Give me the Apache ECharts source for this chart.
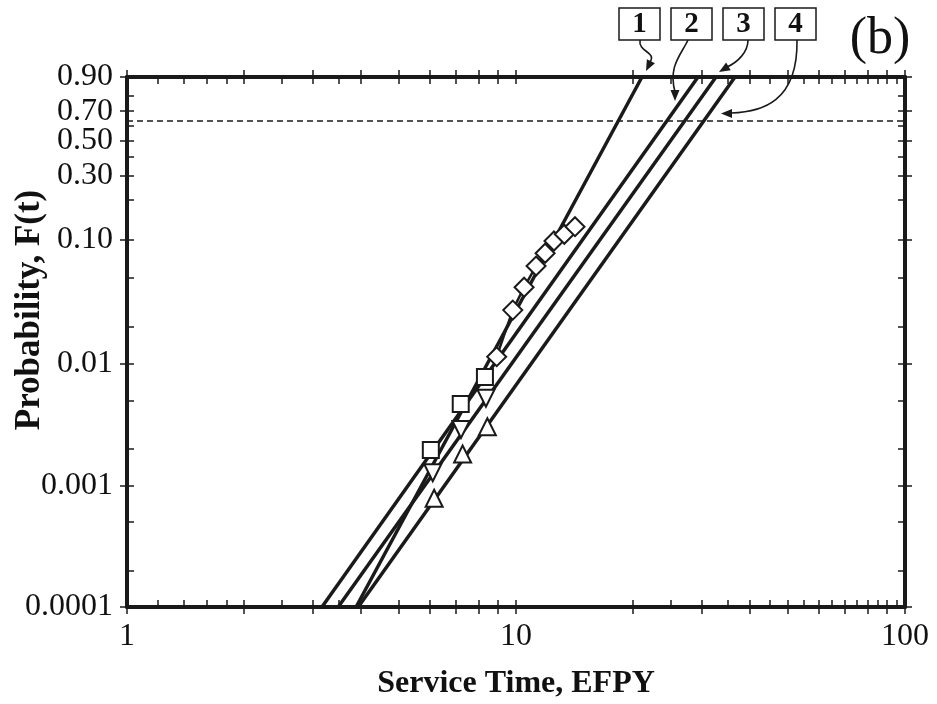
<!DOCTYPE html>
<html><head><meta charset="utf-8">
<script src="https://cdn.jsdelivr.net/npm/echarts@6/dist/echarts.min.js"></script>
<style>html,body{margin:0;padding:0;background:#fff}#c{width:937px;height:704px}</style>
</head><body><div id="c"></div>
<script>
// ---- tick data ----
const xMajorTicks = [1,2,3,4,5,6,7,8,9,10,20,30,40,50,60,70,80,90,100];
const xMinorTicks = [1.2,1.4,1.6,1.8,2.5,3.5,25,35,45,55,65,75,85,95];
const xLabels = [1,10,100];
const yLabels = [0.0001,0.001,0.01,0.10,0.30,0.50,0.70,0.90];
const yLabelText = ['0.0001','0.001','0.01','0.10','0.30','0.50','0.70','0.90'];
const yMinorTicks = [0.0002,0.0005,0.002,0.005,0.02,0.05,0.2,0.4,0.6,0.8];
const yMin = 0.0001, yMax = 0.90;
const charLifeF = 0.632;

// ---- fitted Weibull lines (endpoints: time, probability) ----
const fit1T = [3.88, 21.08], fit1F = [0.0001, 0.90];
const fit2T = [3.17, 29.37], fit2F = [0.0001, 0.90];
const fit3T = [3.49, 32.67], fit3F = [0.0001, 0.90];
const fit4T = [3.93, 36.56], fit4F = [0.0001, 0.90];

// ---- data points ----
const diamondT = [8.92, 9.81, 10.49, 11.26, 11.88, 12.52, 13.31, 14.18];
const diamondF = [0.01142, 0.0274, 0.0419, 0.0620, 0.0783, 0.0978, 0.1103, 0.1262];
const squareT = [6.04, 7.21, 8.32];
const squareF = [0.00196, 0.00467, 0.00779];
const triDownT = [6.11, 7.22, 8.37];
const triDownF = [0.001274, 0.00289, 0.00521];
const triUpT = [6.16, 7.29, 8.44];
const triUpF = [0.000785, 0.001815, 0.00304];

const boxLabels = ['1','2','3','4'];
const panelLabel = '(b)';
const xTitle = 'Service Time, EFPY';
const yTitle = 'Probability, F(t)';

// ---- transforms ----
const L = v => Math.log10(v);
const W = F => Math.log(-Math.log(1 - F));
const pts = (T, F) => T.map((t, i) => [L(t), W(F[i])]);

const ink = '#1a1a1a';
const serif = '"Liberation Serif", "DejaVu Serif", serif';

function xAxis(pos, inside, vals, withLine, withLabel) {
  return {
    type: 'value', min: 0, max: 2, position: pos, gridIndex: 0,
    axisLine: { show: withLine, onZero: false, lineStyle: { color: ink, width: 4 } },
    axisTick: { show: true, inside: inside, length: 7, customValues: vals.map(L), lineStyle: { color: ink, width: 1.5 } },
    axisLabel: withLabel ? {
      show: true, customValues: xLabels.map(L), margin: 14, hideOverlap: false,
      formatter: v => String(Math.round(Math.pow(10, v))),
      fontFamily: serif, fontSize: 32, color: '#111'
    } : { show: false },
    splitLine: { show: false },
    name: withLabel ? xTitle : '',
    nameLocation: 'middle', nameGap: 61, nameMoveOverlap: false,
    nameTextStyle: { fontFamily: serif, fontSize: 32, fontWeight: 'bold', color: '#111' }
  };
}
function yAxis(pos, inside, vals, withLine, withLabel) {
  return {
    type: 'value', min: W(yMin), max: W(yMax), position: pos, gridIndex: 0,
    axisLine: { show: withLine, onZero: false, lineStyle: { color: ink, width: 4 } },
    axisTick: { show: true, inside: inside, length: 7, customValues: vals.map(W), lineStyle: { color: ink, width: 1.5 } },
    axisLabel: withLabel ? {
      show: true, customValues: yLabels.map(W), margin: 14, hideOverlap: false,
      formatter: v => {
        let best = 0, bd = 1e9;
        yLabels.forEach((f, i) => { const d = Math.abs(W(f) - v); if (d < bd) { bd = d; best = i; } });
        return yLabelText[best];
      },
      fontFamily: serif, fontSize: 32, color: '#111'
    } : { show: false },
    splitLine: { show: false }
  };
}

const xAll = xMajorTicks.concat(xMinorTicks);
const yAll = yLabels.concat(yMinorTicks);

const lineS = (T, F) => ({
  type: 'line', data: pts(T, F), symbol: 'none', silent: true,
  lineStyle: { color: ink, width: 3.5 }, z: 3
});
const mark = (T, F, sym, size, rot) => ({
  type: 'scatter', data: pts(T, F), symbol: sym, symbolSize: size, symbolRotate: rot || 0,
  itemStyle: { color: '#fff', borderColor: ink, borderWidth: 2, opacity: 1 }, z: 5
});

function head(tip, dx, dy) {
  const n = Math.hypot(dx, dy), ux = dx / n, uy = dy / n;
  const len = 11, hw = 4.5;
  const bx = tip[0] - ux * len, by = tip[1] - uy * len;
  return { type: 'polygon', shape: { points: [tip, [bx - uy * hw, by + ux * hw], [bx + uy * hw, by - ux * hw]] }, style: { fill: ink } };
}
function curve(p) {
  return { type: 'bezierCurve', shape: { x1: p[0], y1: p[1], cpx1: p[2], cpy1: p[3], cpx2: p[4], cpy2: p[5], x2: p[6], y2: p[7] }, style: { stroke: ink, lineWidth: 1.6, fill: null } };
}
const boxX = [619, 671, 723, 775];
const graphics = [];
boxLabels.forEach((t, i) => {
  graphics.push({ type: 'rect', shape: { x: boxX[i], y: 8, width: 41, height: 32 }, style: { fill: '#fff', stroke: ink, lineWidth: 1.5 } });
  graphics.push({ type: 'text', x: boxX[i] + 20.5, y: 25, style: { text: t, fontFamily: serif, fontSize: 29, fontWeight: 'bold', fill: '#111', align: 'center', verticalAlign: 'middle' } });
});
graphics.push(curve([640, 40, 638, 52, 657, 52, 650, 62]), head([646, 71], -0.5, 1));
graphics.push(curve([688, 40, 681, 55, 668, 66, 675, 92]), head([675, 101], 0, 1));
graphics.push(curve([748, 40, 748, 52, 738, 62, 727, 67]), head([719, 72], -1, 0.6));
graphics.push(curve([797, 40, 798, 102, 762, 112, 731, 113]), head([721, 113.5], -1, 0));
graphics.push({ type: 'text', x: 880, y: 39, style: { text: panelLabel, fontFamily: serif, fontSize: 52, fill: '#111', align: 'center', verticalAlign: 'middle' } });
graphics.push({ type: 'text', x: 30, y: 310, rotation: Math.PI / 2, style: { text: yTitle, fontFamily: serif, fontSize: 35, fontWeight: 'bold', fill: '#111', align: 'center', verticalAlign: 'middle' } });

const chart = echarts.init(document.getElementById('c'));
chart.setOption({
  animation: false,
  backgroundColor: '#fff',
  grid: { left: 127, right: 32, top: 77, bottom: 97, containLabel: false, outerBoundsMode: 'none' },
  xAxis: [
    xAxis('bottom', false, xMajorTicks, true, true),
    xAxis('bottom', true, xAll, false, false),
    xAxis('top', false, xMajorTicks, true, false),
    xAxis('top', true, xAll, false, false)
  ],
  yAxis: [
    yAxis('left', false, yLabels, true, true),
    yAxis('left', true, yAll, false, false),
    yAxis('right', false, yLabels, true, false),
    yAxis('right', true, yAll, false, false)
  ],
  graphic: graphics,
  series: [
    { type: 'line', data: [[0, W(charLifeF)], [2, W(charLifeF)]], symbol: 'none', silent: true,
      lineStyle: { color: ink, width: 1.5, type: [6, 4] }, z: 2 },
    lineS(fit1T, fit1F), lineS(fit2T, fit2F), lineS(fit3T, fit3F), lineS(fit4T, fit4F),
    { type: 'line', data: pts(diamondT, diamondF), symbol: 'diamond', symbolSize: 19, showAllSymbol: true,
      lineStyle: { color: ink, width: 2.5 }, itemStyle: { color: '#fff', borderColor: ink, borderWidth: 2, opacity: 1 }, z: 5 },
    mark(squareT, squareF, 'rect', 16),
    mark(triDownT, triDownF, 'triangle', 17, 180),
    mark(triUpT, triUpF, 'triangle', 17)
  ]
});
</script>
</body></html>
